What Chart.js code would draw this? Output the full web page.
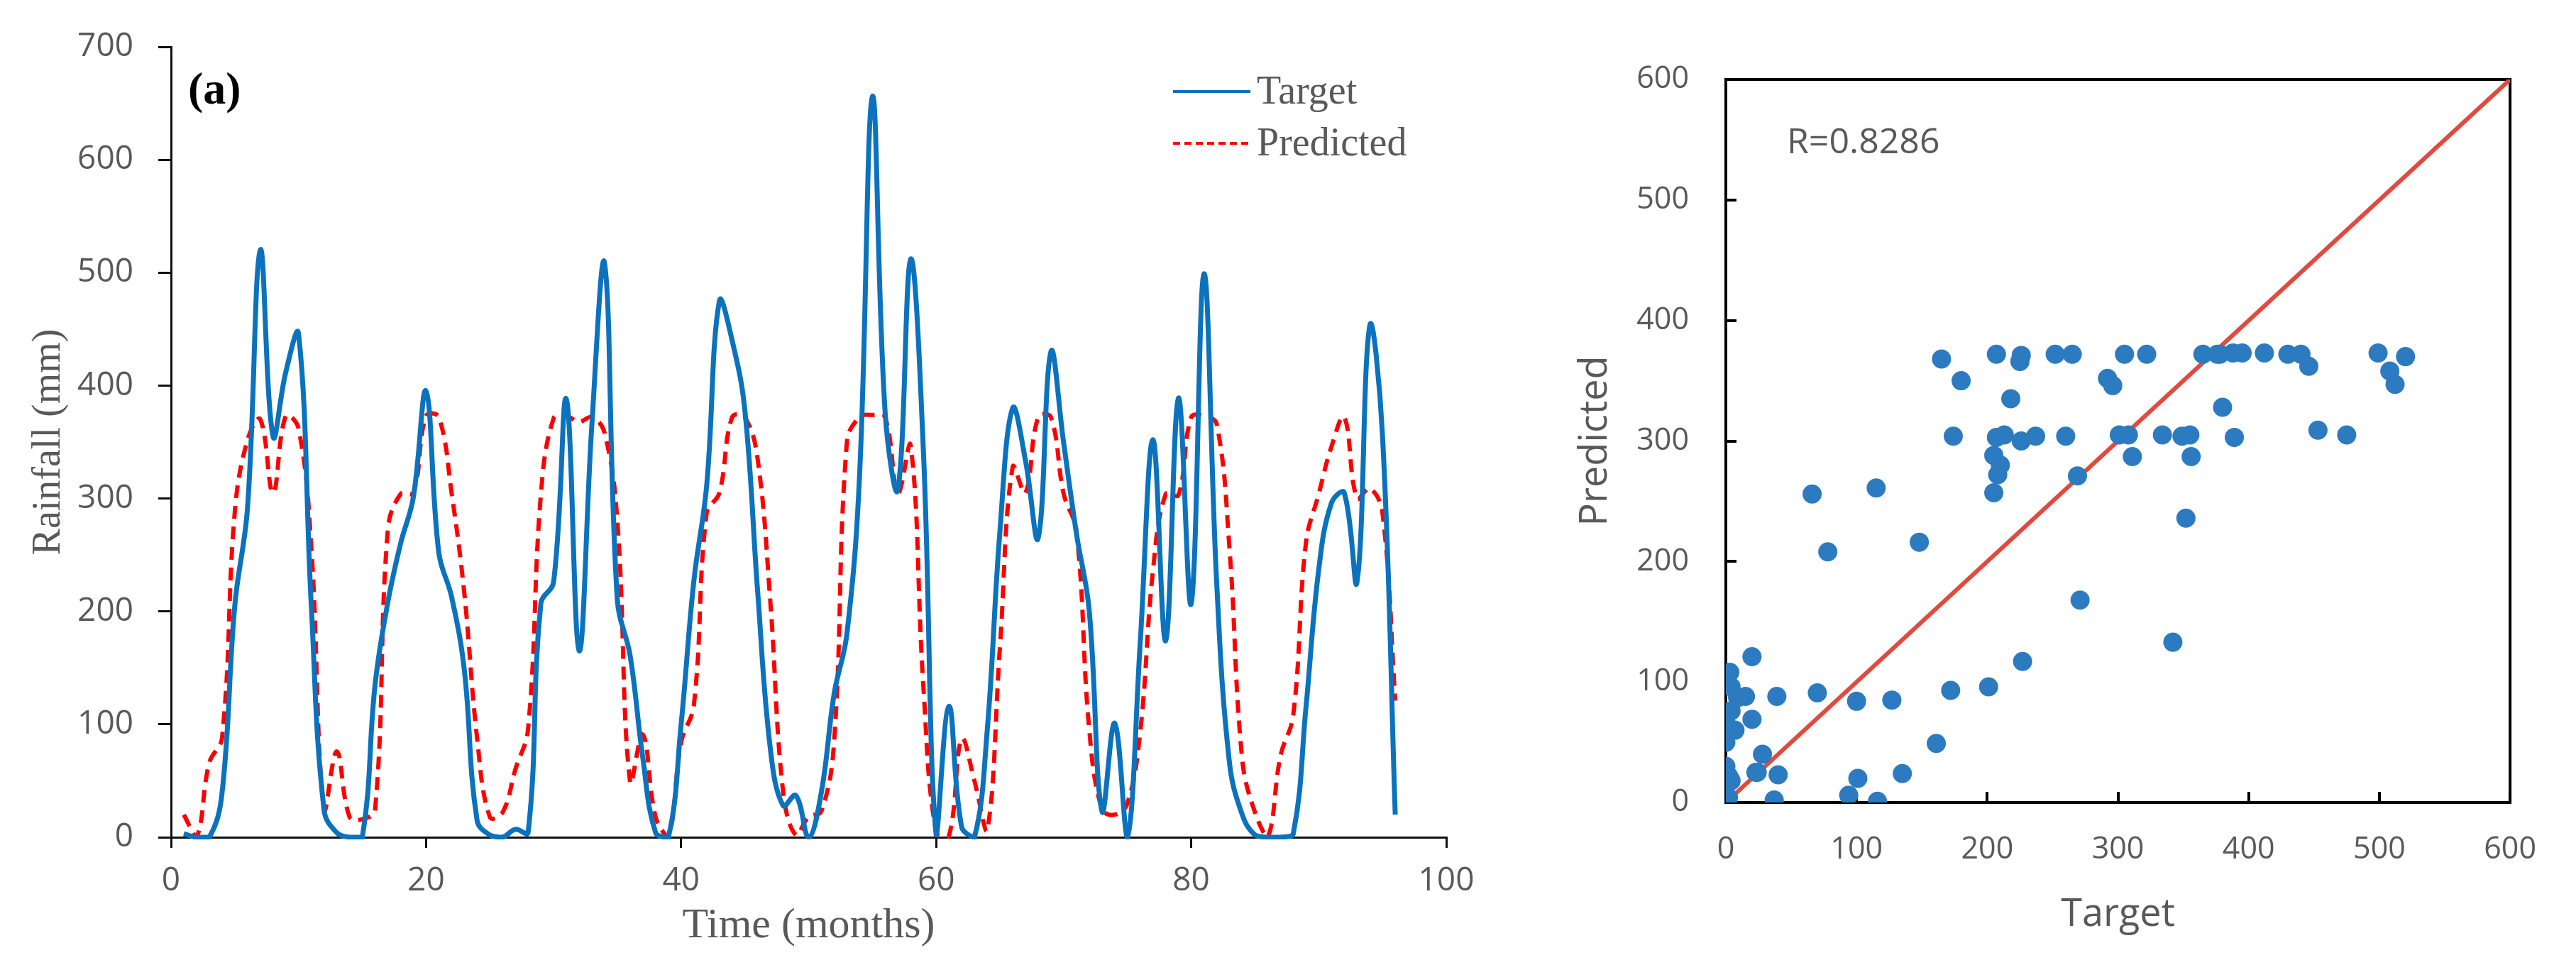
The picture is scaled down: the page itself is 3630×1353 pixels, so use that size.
<!DOCTYPE html>
<html>
<head>
<meta charset="utf-8">
<title>Rainfall: target vs predicted</title>
<script src="https://cdn.jsdelivr.net/npm/chart.js@4.4.1/dist/chart.umd.min.js"></script>
<style>
  html, body { margin: 0; padding: 0; background: #fff; }
  #timeChart { position: absolute; left: 0; top: 0; }
  #scatterChart { position: absolute; left: 2150px; top: 0; }
</style>
</head>
<body>
<canvas id="timeChart" width="2150" height="1353"></canvas>
<canvas id="scatterChart" width="1480" height="1353"></canvas>
<script>
// months on the x axis
const months = [
   1,  2,  3,  4,  5,  6,  7,  8,  9, 10, 11, 12,
  13, 14, 15, 16, 17, 18, 19, 20, 21, 22, 23, 24,
  25, 26, 27, 28, 29, 30, 31, 32, 33, 34, 35, 36,
  37, 38, 39, 40, 41, 42, 43, 44, 45, 46, 47, 48,
  49, 50, 51, 52, 53, 54, 55, 56, 57, 58, 59, 60,
  61, 62, 63, 64, 65, 66, 67, 68, 69, 70, 71, 72,
  73, 74, 75, 76, 77, 78, 79, 80, 81, 82, 83, 84,
  85, 86, 87, 88, 89, 90, 91, 92, 93, 94, 95, 96
];

// observed rainfall (mm)
const target = [
    3,   0,   0,  39, 205, 292, 520, 355, 412, 446, 205,  24,
    4,   0,   0, 135, 208, 260, 301, 395, 252, 213, 148,  15,
    2,   0,   7,   4, 207, 226, 388, 165, 365, 508, 210, 161,
   70,   4,   0, 100, 227, 311, 475, 440, 378, 218,  78,  28,
   37,   0,  40, 127, 180, 322, 656, 376, 308, 512, 342,   2,
  116,   9,   0,  94, 271, 380, 334, 265, 430, 349, 269, 201,
   23, 101,   0, 172, 352, 174, 389, 207, 499, 225,  66,  20,
    2,   0,   0,   3, 115, 237, 296, 305, 226, 453, 356,  20
];

// model output (mm)
const predicted = [
   20,   0,  66,  88, 288, 352, 370, 305, 373, 362, 257,  25,
   76,  18,  16,  24, 272, 304, 305, 373, 372, 305, 216,  88,
   18,  22,  60,  96, 303, 371, 373, 368, 372, 358, 280,  49,
   91,  18,   0,  84, 117, 287, 305, 372, 372, 335, 208,  40,
    2,  18,  23,  85, 350, 372, 374, 372, 305, 347, 133,   4,
    1,  87,  50,   6, 168, 328, 305, 372, 372, 304, 271,  96,
   25,  20,  30,  93, 236, 304, 303, 372, 373, 366, 256,  69,
   22,   0,  72, 108, 261, 304, 346, 372, 300, 309, 287, 121
];

const timeTicks = [0, 20, 40, 60, 80, 100];
const rainTicks = [0, 100, 200, 300, 400, 500, 600, 700];
const scatterTicks = [0, 100, 200, 300, 400, 500, 600];
const identityLine = [0, 600];
const rValue = 'R=0.8286';

const grey = '#595959';
const sansFont = '"Open Sans", "Noto Sans", sans-serif';
const serifFont = '"Liberation Serif", "DejaVu Serif", serif';

// legend and the (a) label, drawn inside the plot area
const timeDecor = {
	id: 'timeDecor',
	afterDraw(chart) {
		const ctx = chart.ctx;
		const area = chart.chartArea;
		ctx.save();
		ctx.textBaseline = 'middle';
		ctx.fillStyle = '#000';
		ctx.font = 'bold 64px ' + serifFont;
		ctx.fillText('(a)', area.left + 24, area.top + 63);

		var legendDash = [[], [10, 6]];
		chart.data.datasets.forEach((ds, i) => {
			var y = area.top + 63 + i * 73;
			var x0 = area.right - 385;
			ctx.strokeStyle = ds.borderColor;
			ctx.lineWidth = 4;
			ctx.setLineDash(legendDash[i]);
			ctx.beginPath();
			ctx.moveTo(x0, y);
			ctx.lineTo(x0 + 109, y);
			ctx.stroke();
			ctx.setLineDash([]);
			ctx.fillStyle = grey;
			ctx.font = '56px ' + serifFont;
			ctx.fillText(ds.label, x0 + 118, y + 2);
		});
		ctx.restore();
	}
};

// box round the scatter plot and the R label
const scatterFrame = {
	id: 'scatterFrame',
	beforeDatasetsDraw(chart) {
		const ctx = chart.ctx;
		const a = chart.chartArea;
		ctx.save();
		ctx.strokeStyle = '#000';
		ctx.lineWidth = 4;
		ctx.strokeRect(a.left, a.top, a.right - a.left, a.bottom - a.top);
		ctx.fillStyle = grey;
		ctx.font = '50px ' + sansFont;
		ctx.textBaseline = 'middle';
		ctx.fillText(rValue, a.left + 86, a.top + 90);
		ctx.restore();
	}
};

var targetPoints = [];
var predictedPoints = [];
var pairPoints = [];
months.forEach((m, i) => {
	targetPoints.push({ x: m, y: target[i] });
	predictedPoints.push({ x: m, y: predicted[i] });
	pairPoints.push({ x: target[i], y: predicted[i] });
});

const timeConfig = {
	type: 'line',
	data: {
		datasets: [
			{
				label: 'Target',
				data: targetPoints,
				borderColor: '#0B72BE',
				borderWidth: 7,
				pointRadius: 0,
				tension: 0.4,
				clip: { left: 4, right: 4, top: 4, bottom: 3 }
			},
			{
				label: 'Predicted',
				data: predictedPoints,
				borderColor: '#FF0000',
				borderWidth: 6,
				borderDash: [18, 11],
				pointRadius: 0,
				tension: 0.4,
				clip: { left: 4, right: 4, top: 4, bottom: 3 }
			}
		]
	},
	options: {
		responsive: false,
		animation: false,
		devicePixelRatio: 1,
		layout: { padding: { left: 0, right: 112, top: 66, bottom: 0 } },
		plugins: { legend: { display: false }, tooltip: { enabled: false } },
		scales: {
			x: {
				type: 'linear',
				min: 0,
				max: 100,
				afterBuildTicks: (scale) => { scale.ticks = timeTicks.map(v => ({ value: v })); },
				afterFit: (scale) => { scale.height = 173; },
				border: { display: true, color: '#111', width: 3 },
				grid: { display: true, drawOnChartArea: false, color: '#111', lineWidth: 3, tickLength: 15 },
				ticks: { color: grey, font: { family: sansFont, size: 46 }, padding: 19, maxRotation: 0 },
				title: {
					display: true,
					text: 'Time (months)',
					color: grey,
					font: { family: serifFont, size: 60 },
					padding: { top: 0, bottom: 12 }
				}
			},
			y: {
				min: 0,
				max: 700,
				afterBuildTicks: (scale) => { scale.ticks = rainTicks.map(v => ({ value: v })); },
				afterFit: (scale) => { scale.width = 241; },
				border: { display: true, color: '#111', width: 3 },
				grid: { display: true, drawOnChartArea: false, color: '#111', lineWidth: 3, tickLength: 18 },
				ticks: { color: grey, font: { family: sansFont, size: 46 }, padding: 35 },
				title: {
					display: true,
					text: 'Rainfall (mm)',
					color: grey,
					font: { family: serifFont, size: 56 },
					padding: { top: 36, bottom: 0 }
				}
			}
		}
	},
	plugins: [timeDecor]
};

const scatterConfig = {
	type: 'scatter',
	data: {
		datasets: [
			{
				label: 'Target vs Predicted',
				data: pairPoints,
				backgroundColor: '#2C7BC0',
				borderWidth: 0,
				pointRadius: 13.5
			},
			{
				type: 'line',
				label: '1:1',
				data: identityLine.map(v => ({ x: v, y: v })),
				borderColor: '#E04A3F',
				borderWidth: 6,
				pointRadius: 0,
				tension: 0
			}
		]
	},
	options: {
		responsive: false,
		animation: false,
		devicePixelRatio: 1,
		layout: { padding: { left: 0, right: 78, top: 112, bottom: 0 } },
		plugins: { legend: { display: false }, tooltip: { enabled: false } },
		scales: {
			x: {
				type: 'linear',
				min: 0,
				max: 600,
				afterBuildTicks: (scale) => { scale.ticks = scatterTicks.map(v => ({ value: v })); },
				afterFit: (scale) => { scale.height = 222; },
				border: { display: true, color: '#000', width: 4 },
				grid: { display: true, drawOnChartArea: false, color: '#000', lineWidth: 4, tickLength: -15 },
				ticks: { color: grey, font: { family: sansFont, size: 43 }, padding: 56, maxRotation: 0 },
				title: {
					display: true,
					text: 'Target',
					color: grey,
					font: { family: sansFont, size: 54 },
					padding: { top: 0, bottom: 31 }
				}
			},
			y: {
				min: 0,
				max: 600,
				afterBuildTicks: (scale) => { scale.ticks = scatterTicks.map(v => ({ value: v })); },
				afterFit: (scale) => { scale.width = 282; },
				border: { display: true, color: '#000', width: 4 },
				grid: { display: true, drawOnChartArea: false, color: '#000', lineWidth: 4, tickLength: -15 },
				ticks: { color: grey, font: { family: sansFont, size: 43 }, padding: 67 },
				title: {
					display: true,
					text: 'Predicted',
					color: grey,
					font: { family: sansFont, size: 54 },
					padding: { top: 66, bottom: 0 }
				}
			}
		}
	},
	plugins: [scatterFrame]
};

const timeChart = new Chart(document.getElementById('timeChart'), timeConfig);
const scatterChart = new Chart(document.getElementById('scatterChart'), scatterConfig);
</script>
</body>
</html>
